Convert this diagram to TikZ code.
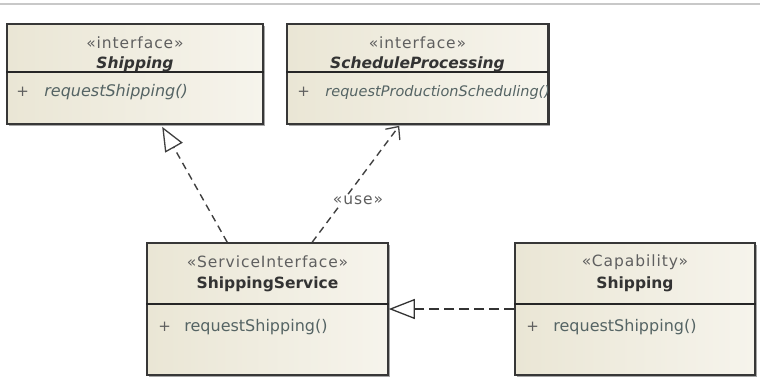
\documentclass[tikz,border=0pt]{standalone}
\usepackage{fontspec}
\setmainfont{DejaVu Sans}
\usetikzlibrary{arrows.meta,calc,shadows}
\definecolor{boxfill}{RGB}{234,230,213}
\definecolor{boxfill2}{RGB}{246,244,236}
\definecolor{boxline}{RGB}{55,55,55}
\definecolor{txt}{RGB}{95,95,95}
\definecolor{optxt}{RGB}{85,100,100}
\definecolor{topline}{RGB}{200,200,200}
\begin{document}
\begin{tikzpicture}[x=1pt,y=-1pt,
  classbox/.style={draw=boxline, line width=1.6pt, left color=boxfill, right color=boxfill2, inner sep=0pt,
    drop shadow={shadow xshift=2pt, shadow yshift=-2pt, fill=black, opacity=0.35}},
  divider/.style={draw=black!85, line width=1.6pt},
  stereo/.style={inner sep=0pt, text=txt, font=\fontsize{15.5}{17}\selectfont\addfontfeatures{LetterSpace=6}},
  cname/.style={inner sep=0pt, text=black!80, font=\fontsize{15.5}{17}\selectfont\bfseries},
  iname/.style={inner sep=0pt, text=black!80, font=\fontsize{15.5}{17}\selectfont\bfseries\itshape},
  opvis/.style={inner sep=0pt, anchor=west, text=txt, font=\fontsize{15}{17}\selectfont},
  optext/.style={inner sep=0pt, anchor=west, text=optxt, font=\fontsize{16}{18}\selectfont},
  ioptext/.style={optext, font=\fontsize{16}{18}\selectfont\itshape},
  realize/.style={draw=black!75, line width=1.4pt, dash pattern=on 7pt off 5pt,
    -{Triangle[open, length=24pt, width=20pt, line width=1.3pt, fill=white, sep=0pt]}},
  realizethick/.style={draw=black!80, line width=2.6pt, dash pattern=on 10pt off 5pt,
    -{Triangle[open, length=26pt, width=20pt, line width=1.3pt, fill=white]}},
  dependency/.style={draw=black!75, line width=1.4pt, dash pattern=on 7pt off 5pt,
    -{Straight Barb[length=10pt, width=18pt, line width=1.3pt]}}
]
\useasboundingbox (0,0) rectangle (760,377);
\fill[white] (0,0) rectangle (760,377);
\draw[topline, line width=1.5pt] (0,4) -- (760,4);

% Box 1: interface Shipping
\node[classbox, minimum width=256pt, minimum height=100pt] (b1) at (135,74) {};
\draw[divider] ($(b1.north west)+(0,49)$) -- ($(b1.north east)+(0,49)$);
\node[stereo] (b1s) at ($(b1.north)+(0,20)$) {«interface»};
\node[iname] (b1n) at ($(b1.north)+(0,41)$) {Shipping};
\node[opvis] (b1v) at ($(b1.north west)+(10,69)$) {+};
\node[ioptext] (b1o) at ($(b1.north west)+(38,69)$) {requestShipping()};

% Box 2: interface ScheduleProcessing
\node[classbox, minimum width=261pt, minimum height=100pt] (b2) at (417.5,74) {};
\draw[divider] ($(b2.north west)+(0,49)$) -- ($(b2.north east)+(0,49)$);
\node[stereo] (b2s) at ($(b2.north)+(0,20)$) {«interface»};
\node[iname] (b2n) at ($(b2.north)+(0,41)$) {ScheduleProcessing};
\node[opvis] (b2v) at ($(b2.north west)+(11,69)$) {+};
\begin{scope}
  \clip (b2.north west) rectangle (b2.south east);
  \node[ioptext, font=\fontsize{14.5}{17}\selectfont\itshape] (b2o) at ($(b2.north west)+(39,69)$) {requestProductionScheduling()};
\end{scope}
\draw[boxline, line width=1.6pt] (b2.north east) -- (b2.south east);

% Box 3: ServiceInterface ShippingService
\node[classbox, minimum width=241pt, minimum height=132pt] (b3) at (267.5,309) {};
\draw[divider] ($(b3.north west)+(0,62)$) -- ($(b3.north east)+(0,62)$);
\node[stereo] (b3s) at ($(b3.north)+(0,20)$) {«ServiceInterface»};
\node[cname] (b3n) at ($(b3.north)+(0,42)$) {ShippingService};
\node[opvis] (b3v) at ($(b3.north west)+(12,85)$) {+};
\node[optext] (b3o) at ($(b3.north west)+(38,85)$) {requestShipping()};

% Box 4: Capability Shipping
\node[classbox, minimum width=240pt, minimum height=132pt] (b4) at (635,309) {};
\draw[divider] ($(b4.north west)+(0,62)$) -- ($(b4.north east)+(0,62)$);
\node[stereo] (b4s) at ($(b4.north)+(0,20)$) {«Capability»};
\node[cname] (b4n) at ($(b4.north)+(0,42)$) {Shipping};
\node[opvis] (b4v) at ($(b4.north west)+(12,85)$) {+};
\node[optext] (b4o) at ($(b4.north west)+(39,85)$) {requestShipping()};

% Connectors
\draw[realize] ($(b3.north west)+(81,0)$) -- ($(b1.south west)+(156,2)$);
\draw[dependency] ($(b3.north west)+(166,0)$) -- ($(b2.south west)+(113,1)$);
\node[stereo, fill=white, inner sep=1pt] (use) at (358,200) {«use»};
\draw[realizethick] (b4.west) -- (b3.east);
\end{tikzpicture}
\end{document}
